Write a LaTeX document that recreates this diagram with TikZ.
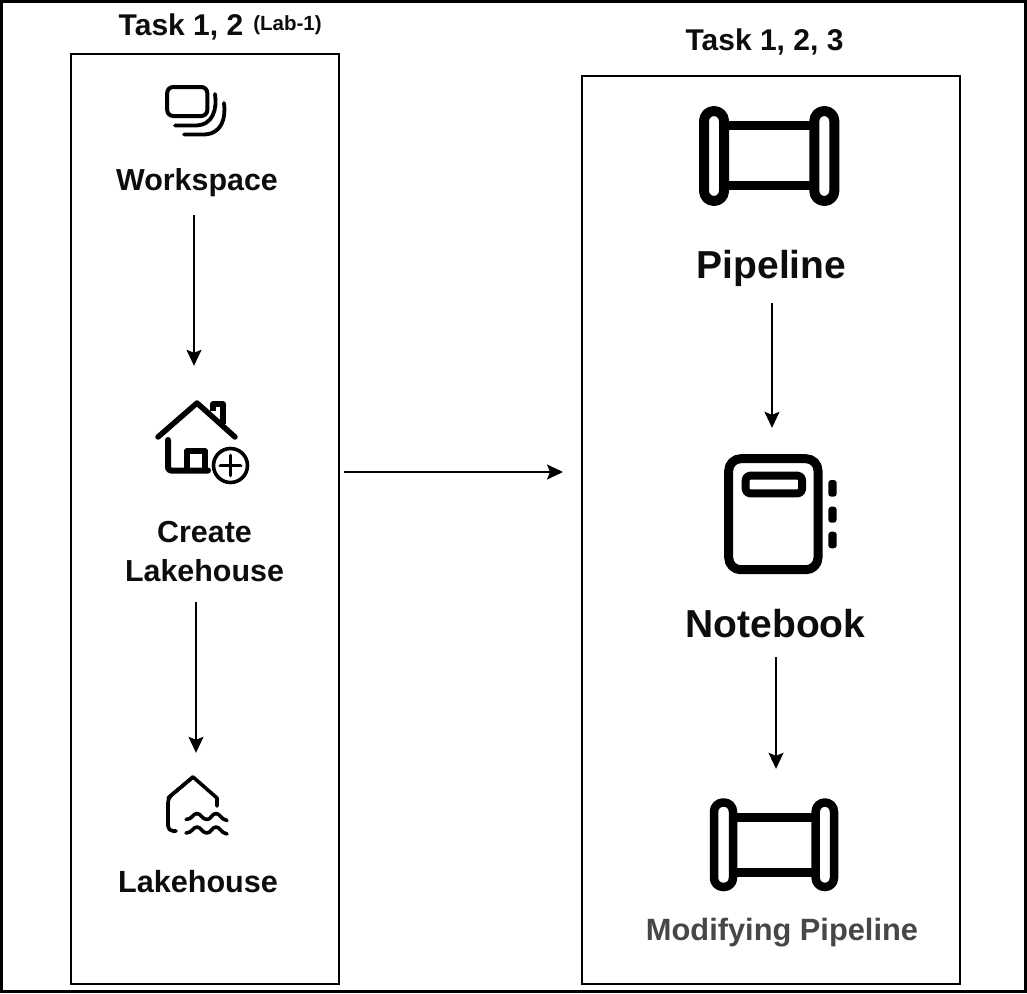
\documentclass[tikz,border=0pt]{standalone}
\usepackage{fontspec}
\setmainfont{Liberation Sans}
\usetikzlibrary{arrows.meta}
\tikzset{
  x=1pt,y=-1pt,
  panel/.style={draw=black,line width=2pt},
  flow/.style={draw=black,line width=1.5pt,-{Stealth[length=16pt,width=15pt,inset=3pt]}},
  lbl/.style={inner sep=0pt,text depth=0pt,anchor=south,font=\bfseries\fontsize{#1}{#1}\selectfont,text=black!95},
  lbl/.default=30,
  iconbox/.style={inner sep=0pt,minimum width=#1,draw=none},
  ic/.style={draw=black,line cap=round,line join=round},
}
\begin{document}
\begin{tikzpicture}
\useasboundingbox (0,0) rectangle (1027,993);
\fill[white] (0,0) rectangle (1027,993);
\draw[black,line width=3pt] (1.5,1.5) rectangle (1025.5,991.5);
% panels
\node[panel,inner sep=0pt,minimum width=268pt,minimum height=930pt] (leftBox) at (205,519) {};
\node[panel,inner sep=0pt,minimum width=378pt,minimum height=908pt] (rightBox) at (771,530) {};
% titles
\node[lbl] (taskA) at (181,36) {Task 1, 2};
\node[lbl=20.5] (labA) at (287.5,31) {(Lab-1)};
\node[lbl] (taskB) at (764.5,51) {Task 1, 2, 3};
% labels
\node[lbl=30.4] (wsLabel) at (197,190.5) {Workspace};
\node[lbl=30.4,align=center] (createLabel) at (204.5,581.5) {Create\\[8pt]Lakehouse};
\node[lbl=30.6] (lakeLabel) at (198,893) {Lakehouse};
\node[lbl=39] (pipeLabel) at (771.5,279) {Pipeline};
\node[lbl=39] (bookLabel) at (775.5,638) {Notebook};
\node[lbl=30.8,text=black!72] (modLabel) at (782,941) {Modifying Pipeline};
% icon boxes
\node[iconbox=96pt,minimum height=72pt] (iconCreate) at (203,436) {};
\node[iconbox=64pt,minimum height=58pt] (iconLake) at (198,804) {};
\node[iconbox=114pt,minimum height=120pt] (iconBook) at (781,514) {};
\node[iconbox=128pt,minimum height=93pt] (iconPipeB) at (774,844.5) {};
% workspace icon
\draw[ic,line width=4pt,rounded corners=6pt] (167.2,87) rectangle (207.3,116);
\draw[ic,line width=3.8pt] (215,94) .. controls (217,108) and (214,125.5) .. (195,125.5) -- (175,125.5);
\draw[ic,line width=3.8pt] (224,103) .. controls (226,118) and (222,134.5) .. (203,134.5) -- (184,134.5);
% create lakehouse icon
\draw[ic,line width=5.5pt] (158,437) -- (197,403) -- (235,437);
\draw[ic,line width=5.5pt,line cap=butt] (213,411) -- (213,404) -- (223,404) -- (223,424);
\draw[ic,line width=6pt,rounded corners=3pt] (168,440) -- (168,470.5) -- (208,470.5);
\draw[ic,line width=6pt,line cap=butt] (187,470.5) -- (187,451) -- (205,451) -- (205,470.5);
\draw[ic,line width=3.6pt,fill=white] (230.5,465.5) circle[radius=17pt];
\draw[ic,line width=3.8pt] (220.5,465.5) -- (240.5,465.5) (230.5,455.5) -- (230.5,475.5);
% lakehouse icon
\draw[ic,line width=3.6pt,rounded corners=5pt] (176,831) -- (168,831) -- (168,798) -- (193,777);
\draw[ic,line width=3.6pt] (168,798) -- (193,777) -- (217,798) -- (217,806);
\foreach \yy in {0,13.5}{
\draw[ic,line width=3.6pt] (186,819.5+\yy) .. controls (192,819.5+\yy) and (193,813.5+\yy) .. (197,813.5+\yy)
  .. controls (201,813.5+\yy) and (202,819.5+\yy) .. (207,819.5+\yy)
  .. controls (211,819.5+\yy) and (212,813.5+\yy) .. (216,813.5+\yy)
  .. controls (220,813.5+\yy) and (221,819.5+\yy) .. (227,820.5+\yy);
}
% pipeline large
\draw[ic,line width=10pt,rounded corners=10pt] (704,111) rectangle (724,201);
\draw[ic,line width=10pt,rounded corners=10pt] (814.3,111) rectangle (834.3,201);
\draw[ic,line width=9pt,line cap=butt] (724,125.7) -- (814.3,125.7) (724,185) -- (814.3,185);
% notebook
\draw[ic,line width=9pt,rounded corners=12pt] (728.7,458.7) rectangle (818,569.7);
\draw[ic,line width=8pt,rounded corners=4pt] (745.7,475.7) rectangle (802,493.3);
\fill[black,rounded corners=3pt] (828.3,480) rectangle (836.7,496.7);
\fill[black,rounded corners=3pt] (828.3,506.7) rectangle (836.7,522.7);
\fill[black,rounded corners=3pt] (828.3,531.7) rectangle (836.7,548.3);
% pipeline small
\draw[ic,line width=8.5pt,rounded corners=9pt] (714,802.5) rectangle (733,887);
\draw[ic,line width=8.5pt,rounded corners=9pt] (815.7,802.5) rectangle (834,887);
\draw[ic,line width=8.5pt,line cap=butt] (733,817.7) -- (815.7,817.7) (733,872.7) -- (815.7,872.7);
% connectors
\draw[flow] ([xshift=-3pt,yshift=-24.5pt]wsLabel.south) -- ([xshift=-9pt,yshift=34pt]iconCreate.north);
\draw[flow] ([xshift=-8.5pt,yshift=-20.5pt]createLabel.south) -- ([xshift=-2pt,yshift=22pt]iconLake.north);
\draw[flow] ([xshift=4pt,yshift=47pt]leftBox.east) -- ([xshift=-18pt,yshift=58pt]rightBox.west);
\draw[flow] ([xshift=.5pt,yshift=-24pt]pipeLabel.south) -- ([xshift=-9pt,yshift=26pt]iconBook.north);
\draw[flow] ([xshift=.5pt,yshift=-19pt]bookLabel.south) -- ([xshift=2pt,yshift=29pt]iconPipeB.north);
\end{tikzpicture}
\end{document}
